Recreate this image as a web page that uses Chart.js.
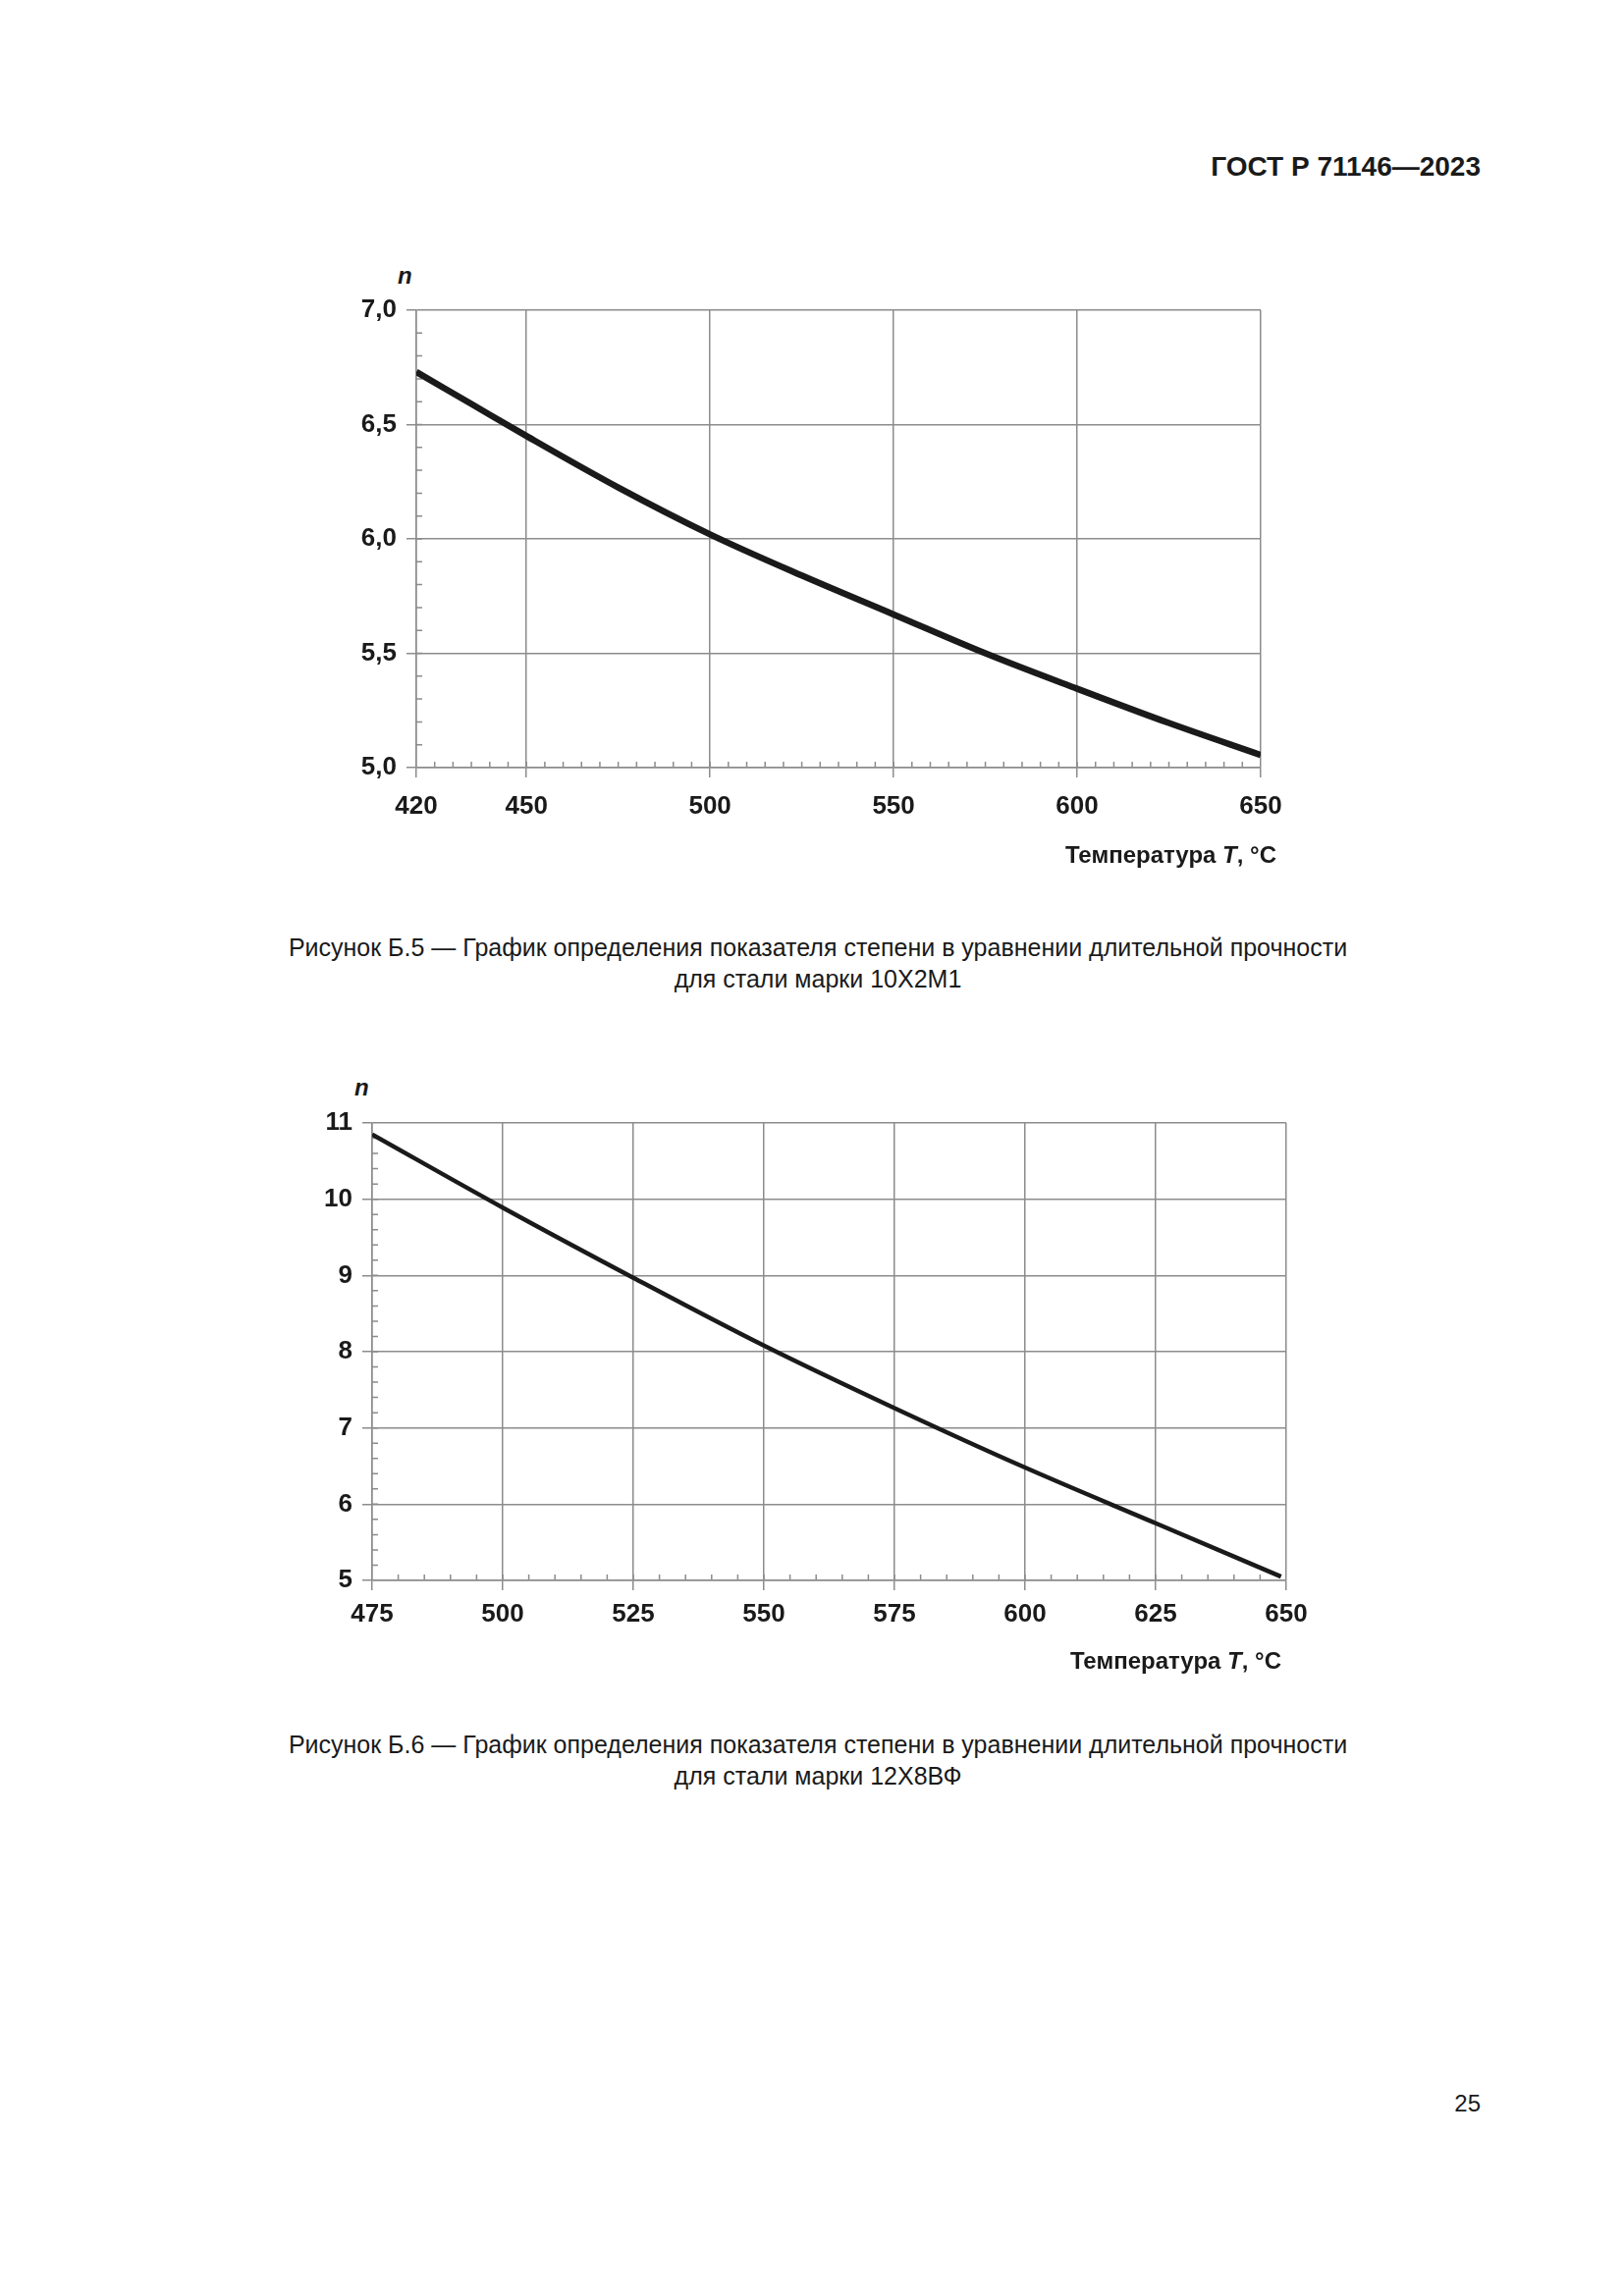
<!DOCTYPE html>
<html lang="ru">
<head>
<meta charset="utf-8">
<script src="https://cdn.jsdelivr.net/npm/chart.js@4.4.1/dist/chart.umd.min.js"></script>
<style>
  html, body { margin: 0; padding: 0; background: #fff; }
  body { width: 1654px; height: 2339px; position: relative; font-family: "Liberation Sans", Arial, sans-serif; color: #1a1a1a; }
  .abs { position: absolute; white-space: nowrap; }
  .head { right: 146px; top: 156px; font-size: 28px; line-height: 28px; font-weight: bold; }
  .cap { left: 233px; width: 1200px; text-align: center; font-size: 25px; line-height: 32px; }
  .ax { font-size: 24px; line-height: 24px; font-weight: bold; }
  .pg { right: 146px; top: 2131px; font-size: 24px; line-height: 24px; }
  canvas { position: absolute; }
</style>
</head>
<body>
<div class="abs head">ГОСТ Р 71146—2023</div>

<div class="abs ax" style="left:405px; top:269px;"><i>n</i></div>
<canvas id="chart1" width="1060" height="640" style="left:300px; top:260px; width:1060px; height:640px;"></canvas>
<div class="abs ax" style="right:354px; top:859px;">Температура <i>T</i>, °C</div>
<div class="abs cap" style="top:949px;">Рисунок Б.5 — График определения показателя степени в уравнении длительной прочности<br>для стали марки 10Х2М1</div>

<div class="abs ax" style="left:361px; top:1096px;"><i>n</i></div>
<canvas id="chart2" width="1110" height="620" style="left:260px; top:1090px; width:1110px; height:620px;"></canvas>
<div class="abs ax" style="right:349px; top:1680px;">Температура <i>T</i>, °C</div>
<div class="abs cap" style="top:1761px;">Рисунок Б.6 — График определения показателя степени в уравнении длительной прочности<br>для стали марки 12Х8ВФ</div>

<div class="abs pg">25</div>

<script>
// Б.5 — сталь 10Х2М1
const temp1 = [420, 435, 450, 475, 500, 525, 550, 575, 600, 625, 650];
const n1 = [6.73, 6.59, 6.45, 6.225, 6.02, 5.84, 5.67, 5.50, 5.345, 5.195, 5.055];
const xTicks1 = [420, 450, 500, 550, 600, 650];

// Б.6 — сталь 12Х8ВФ
const temp2 = [475, 500, 525, 550, 575, 600, 625, 649];
const n2 = [10.85, 9.89, 8.97, 8.08, 7.26, 6.48, 5.75, 5.05];
const xTicks2 = [475, 500, 525, 550, 575, 600, 625, 650];

const FONT = "'Liberation Sans', Arial, sans-serif";
const GRID = "#8c8c8c";
const INK = "#1a1a1a";

// small inner ticks between the major grid lines
const minorTicks = {
  id: "minorTicks",
  beforeDatasetsDraw(chart, args, o) {
    const { ctx, chartArea: a, scales: { x, y } } = chart;
    ctx.save();
    ctx.strokeStyle = GRID;
    ctx.lineWidth = 1.5;
    ctx.beginPath();
    const nx = Math.round((x.max - x.min) / o.x);
    for (let i = 1; i < nx; i++) {
      const px = x.getPixelForValue(x.min + i * o.x);
      ctx.moveTo(px, a.bottom);
      ctx.lineTo(px, a.bottom - o.len);
    }
    const ny = Math.round((y.max - y.min) / o.y);
    for (let i = 1; i < ny; i++) {
      const py = y.getPixelForValue(y.min + i * o.y);
      ctx.moveTo(a.left, py);
      ctx.lineTo(a.left + o.len, py);
    }
    ctx.stroke();
    ctx.restore();
  }
};

function makeChart(id, xs, ys, ticksX, cfg) {
  const tickFont = { family: FONT, size: 26, weight: "bold" };
  return new Chart(document.getElementById(id), {
    type: "line",
    data: {
      datasets: [{
        data: xs.map((t, i) => ({ x: t, y: ys[i] })),
        borderColor: INK,
        borderWidth: cfg.lw,
        pointRadius: 0,
        cubicInterpolationMode: "monotone",
        fill: false
      }]
    },
    options: {
      responsive: false,
      animation: false,
      devicePixelRatio: 1,
      layout: { padding: { top: cfg.top, right: cfg.right, left: 0, bottom: 0 } },
      plugins: {
        legend: { display: false },
        tooltip: { enabled: false },
        minorTicks: { x: cfg.minorX, y: cfg.minorY, len: 6 }
      },
      scales: {
        x: {
          type: "linear",
          min: ticksX[0],
          max: ticksX[ticksX.length - 1],
          afterBuildTicks: s => { s.ticks = ticksX.map(v => ({ value: v })); },
          afterFit: s => { s.height = cfg.xh; },
          grid: { color: GRID, lineWidth: 1.5, tickLength: 10 },
          border: { color: GRID, width: 1.5 },
          ticks: { font: tickFont, color: INK, padding: cfg.xpad, maxRotation: 0, autoSkip: false }
        },
        y: {
          min: cfg.ymin,
          max: cfg.ymax,
          afterFit: s => { s.width = cfg.yw; },
          grid: { color: GRID, lineWidth: 1.5, tickLength: 10 },
          border: { color: GRID, width: 1.5 },
          ticks: {
            font: tickFont, color: INK, padding: 10, stepSize: cfg.step,
            callback: v => cfg.dec ? v.toFixed(1).replace(".", ",") : String(v)
          }
        }
      }
    },
    plugins: [minorTicks]
  });
}

makeChart("chart1", temp1, n1, xTicks1,
  { lw: 6.5, top: 56, right: 76, xh: 118, yw: 124, xpad: 14, ymin: 5, ymax: 7, step: 0.5, dec: true, minorX: 5, minorY: 0.1 });
makeChart("chart2", temp2, n2, xTicks2,
  { lw: 4.5, top: 54, right: 60, xh: 100, yw: 119, xpad: 9, ymin: 5, ymax: 11, step: 1, dec: false, minorX: 5, minorY: 0.2 });
</script>
</body>
</html>
